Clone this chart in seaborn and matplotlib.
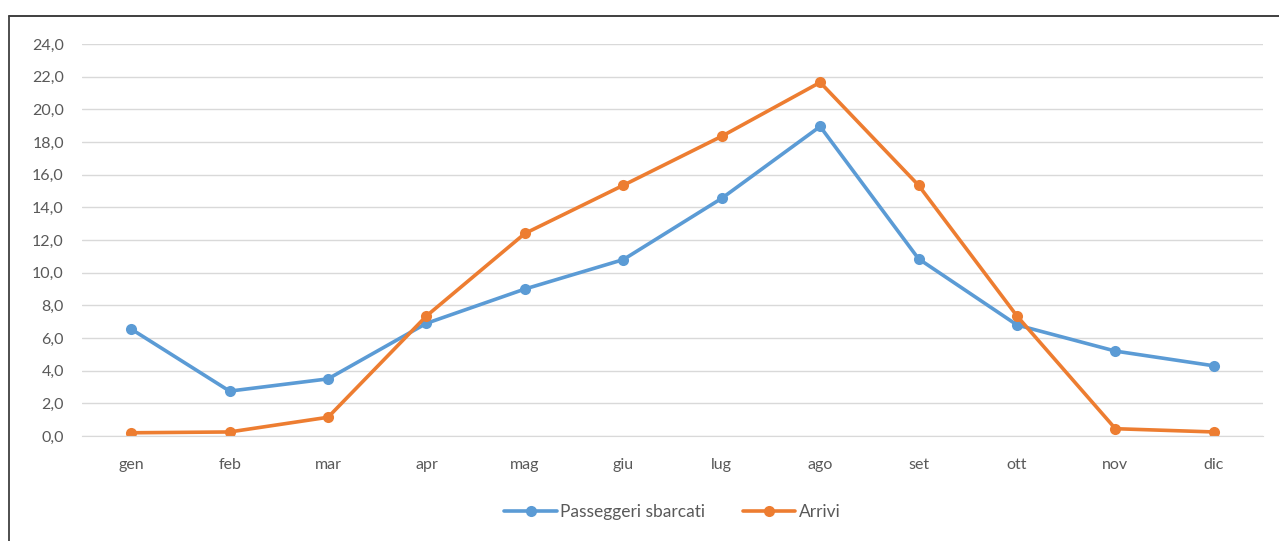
import numpy as np
import pandas as pd
import matplotlib.pyplot as plt
import seaborn as sns
from matplotlib.lines import Line2D

mesi = ['gen', 'feb', 'mar', 'apr', 'mag', 'giu', 'lug', 'ago', 'set', 'ott', 'nov', 'dic']
passeggeri_sbarcati = [6.55, 2.75, 3.5, 6.9, 9.0, 10.8, 14.55, 18.95, 10.85, 6.8, 5.2, 4.3]
arrivi = [0.2, 0.25, 1.15, 7.35, 12.4, 15.35, 18.35, 21.65, 15.35, 7.35, 0.45, 0.25]
serie = ['Passeggeri sbarcati', 'Arrivi']
colori = ['#5B9BD5', '#ED7D31']

df = pd.DataFrame({
    'mese': mesi * 2,
    'pos': list(range(len(mesi))) * 2,
    'valore': passeggeri_sbarcati + arrivi,
    'serie': [serie[0]] * len(mesi) + [serie[1]] * len(mesi),
})

sns.set_style('white')
plt.rcParams['font.family'] = ['Lato', 'DejaVu Sans']

fig = plt.figure(figsize=(12.79, 5.41), dpi=100)
ax = fig.add_axes([0.0641, 0.194, 0.9234, 0.7247])

sns.lineplot(data=df, x='pos', y='valore', hue='serie', palette=colori,
             marker='o', markersize=8, markeredgewidth=0, linewidth=2.6,
             ax=ax, legend=True)

ax.set_xlim(-0.5, len(mesi) - 0.5)
ax.set_ylim(0, 24)
ax.set_yticks(np.arange(0, 25, 2))
ax.set_yticklabels([f'{v:.1f}'.replace('.', ',') for v in np.arange(0, 25, 2)])
ax.set_xticks(range(len(mesi)))
ax.set_xticklabels(mesi)
ax.yaxis.grid(True, color='#D9D9D9', linewidth=1)
ax.set_axisbelow(True)
ax.tick_params(axis='both', colors='#595959', labelsize=11.5, length=0)
ax.tick_params(axis='x', pad=16)
ax.tick_params(axis='y', pad=13)
ax.set_xlabel('')
ax.set_ylabel('')
for s in ax.spines.values():
    s.set_visible(False)
ax.spines['bottom'].set_visible(True)
ax.spines['bottom'].set_color('#D9D9D9')

handles, labels = ax.get_legend_handles_labels()
ax.legend(handles, labels, loc='center', bbox_to_anchor=(0.5, -0.195),
          ncol=2, frameon=False, fontsize=12.5, labelcolor='#595959',
          handlelength=3.0, columnspacing=2.2, handletextpad=0.2)

# cornice del riquadro: solo lato superiore e sinistro
top = 1 - 16 / 541
left = 9 / 1279
fig.lines.append(Line2D([left, 1], [top, top], transform=fig.transFigure,
                        color='#303030', linewidth=1.3))
fig.lines.append(Line2D([left, left], [0, top], transform=fig.transFigure,
                        color='#404040', linewidth=1.3))

fig.savefig('out.png', dpi=100)
